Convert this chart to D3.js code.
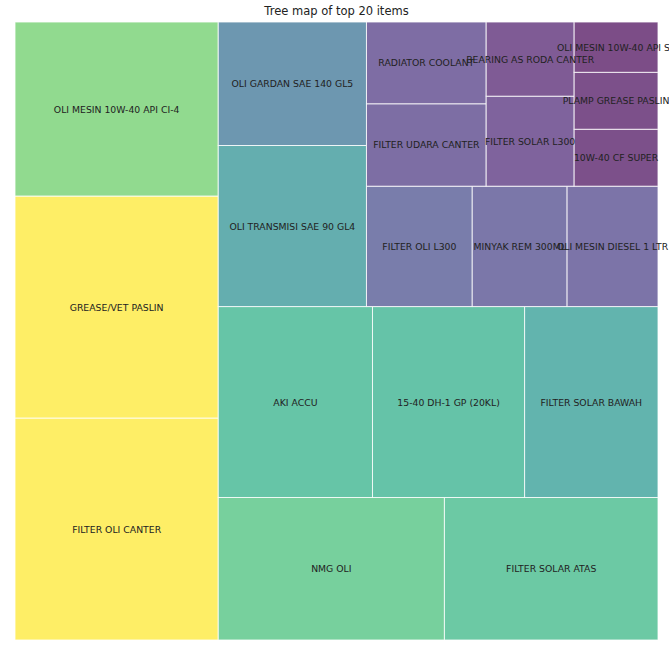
<!DOCTYPE html>
<html lang="en">
<head>
    <title>Tree map of top 20 items</title>
    <style>
        body { margin: 0; background: #fff; }
        .chart text { font-family: "DejaVu Sans", sans-serif; }
        .chart .cell { stroke: #fff; stroke-width: 1; stroke-opacity: 0.8; }
        .chart .label { font-size: 9.3px; fill: #222; text-anchor: middle; dominant-baseline: central; }
        .chart .title { font-size: 11.5px; fill: #222; text-anchor: middle; }
    </style>
</head>
<body>
<div id="chart"></div>

<script src="https://d3js.org/d3.v7.min.js"></script>
<script>
    // items, largest first (squarify wants them sorted)
    var items = [
        "FILTER OLI CANTER", "GREASE/VET PASLIN", "OLI MESIN 10W-40 API CI-4", "NMG OLI",
        "FILTER SOLAR ATAS", "AKI ACCU", "15-40 DH-1 GP (20KL)", "FILTER SOLAR BAWAH",
        "OLI TRANSMISI SAE 90 GL4", "OLI GARDAN SAE 140 GL5", "FILTER OLI L300", "MINYAK REM 300ML",
        "OLI MESIN DIESEL 1 LTR", "FILTER UDARA CANTER", "RADIATOR COOLANT", "FILTER SOLAR L300",
        "BEARING AS RODA CANTER", "10W-40 CF SUPER", "PLAMP GREASE PASLIN", "OLI MESIN 10W-40 API SL"
    ];
    var counts = [1134, 1134, 889, 810, 765, 740, 730, 640, 600, 460,
                  320, 287, 275, 248, 246, 199, 164, 120, 120, 106];
    var title = "Tree map of top 20 items";

    var width = 669, height = 649;
    var margin = {top: 22, right: 11, bottom: 9, left: 15};

    var svg = d3.select("#chart").append("svg")
        .attr("class", "chart")
        .attr("width", width)
        .attr("height", height);

    // layout in a 100 x 100 box, y pointing up like the original plot
    var x = d3.scaleLinear().domain([0, 100]).range([margin.left, width - margin.right]);
    var y = d3.scaleLinear().domain([0, 100]).range([height - margin.bottom, margin.top]);

    var color = d3.scaleSequential(d3.interpolateViridis).domain([d3.min(counts), d3.max(counts)]);

    var root = d3.hierarchy({children: items.map(function (d, i) {
        return {name: d, value: counts[i]};
    })}).sum(function (d) { return d.value || 0; });

    d3.treemap().tile(d3.treemapSquarify.ratio(1)).size([100, 100])(root);

    var cells = svg.append("g").selectAll("g")
        .data(root.leaves())
        .enter().append("g");

    cells.append("rect")
        .attr("class", "cell")
        .attr("x", function (d) { return x(d.x0); })
        .attr("y", function (d) { return y(d.y1); })
        .attr("width", function (d) { return x(d.x1) - x(d.x0); })
        .attr("height", function (d) { return y(d.y0) - y(d.y1); })
        .attr("fill", function (d) { return color(d.data.value); })
        .attr("fill-opacity", 0.7);

    svg.append("g").selectAll("text")
        .data(root.leaves())
        .enter().append("text")
        .attr("class", "label")
        .attr("x", function (d) { return x((d.x0 + d.x1) / 2); })
        .attr("y", function (d) { return y((d.y0 + d.y1) / 2); })
        .text(function (d) { return d.data.name; });

    svg.append("text")
        .attr("class", "title")
        .attr("x", (margin.left + width - margin.right) / 2)
        .attr("y", 15)
        .text(title);
</script>
</body>
</html>
